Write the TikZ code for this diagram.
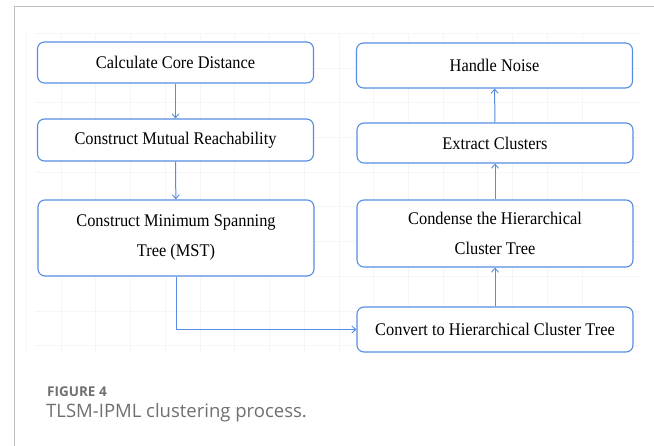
\documentclass[tikz,border=0pt]{standalone}
\usepackage{fontspec}
\usetikzlibrary{arrows.meta}
\newfontfamily\boxfont[FakeStretch=0.92]{Liberation Serif}
\newfontfamily\capfont{Open Sans}
\definecolor{boxblue}{RGB}{88,140,226}
\definecolor{capgray}{RGB}{112,112,112}
\definecolor{framegray}{RGB}{192,192,192}
\definecolor{gridgray}{RGB}{246,246,248}
\tikzset{
  stepbox/.style={draw=boxblue, line width=1.1pt, rounded corners=7pt, fill=white,
    font=\boxfont\fontsize{17.8}{30}\selectfont, align=center, inner sep=0pt,
    minimum width=276pt},
  flow/.style={draw=boxblue, line width=1pt, -{Straight Barb[length=4pt,width=7pt,line width=0.9pt]}},
}
\begin{document}
\begin{tikzpicture}[x=1pt,y=-1pt]
\useasboundingbox (0,0) rectangle (654,446);
\fill[white] (0,0) rectangle (654,446);
% faint grid
\foreach \i in {0,...,16} {\draw[gridgray, line width=0.6pt] ({61+34.73*\i-34.73},33) -- ({61+34.73*\i-34.73},353);}
\foreach \j in {0,...,9} {\draw[gridgray, line width=0.6pt] (35,{68+34.7*\j-34.7}) -- (640,{68+34.7*\j-34.7});}
% frame
\draw[framegray, line width=1pt] (14,446) -- (14,7) -- (654,7);
% boxes
\node[stepbox, minimum height=41pt] (core) at (175.5,62.5) {Calculate Core Distance};
\node[stepbox, minimum height=42pt] (mutual) at (175.5,140) {Construct Mutual Reachability};
\node[stepbox, minimum height=76pt] (mst) at (176,238) {Construct Minimum Spanning\\Tree (MST)};
\node[stepbox, minimum height=45pt] (noise) at (494.5,65.5) {Handle Noise};
\node[stepbox, minimum height=40pt] (extract) at (495,143) {Extract Clusters};
\node[stepbox, minimum height=67pt] (condense) at (495,233.5) {Condense the Hierarchical\\Cluster Tree};
\node[stepbox, minimum height=45pt] (convert) at (495,329.5) {Convert to Hierarchical Cluster Tree};
% connectors
\draw[flow] (core) -- (mutual);
\draw[flow] (mutual) -- (mst);
\draw[flow] (mst.south) |- (convert.west);
\draw[flow] (convert) -- (condense);
\draw[flow] (condense) -- (extract);
\draw[flow] (extract) -- (noise);
% caption
\node[anchor=base west, inner sep=0pt, text=capgray, font=\capfont\bfseries\fontsize{13.5}{16}\selectfont] (fig) at (47,397) {FIGURE 4};
\node[anchor=base west, inner sep=0pt, text=capgray, font=\capfont\fontsize{18.5}{22}\selectfont] (cap) at (46,418) {TLSM-IPML clustering process.};
\end{tikzpicture}
\end{document}
